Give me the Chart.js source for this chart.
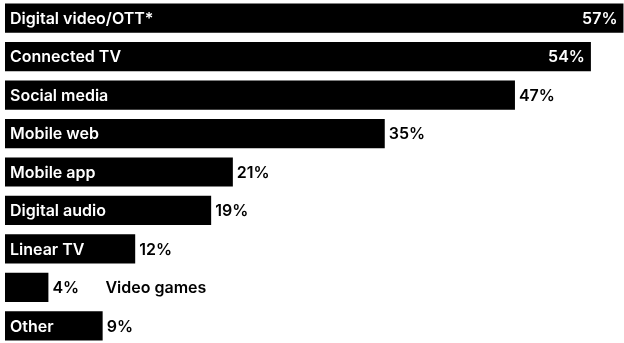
<!DOCTYPE html>
<html>
<head>
<meta charset="utf-8">
<script src="https://cdn.jsdelivr.net/npm/chart.js@4.4.0/dist/chart.umd.min.js"></script>
<style>
  html, body { margin: 0; padding: 0; background: #fff; overflow: hidden; }
  #wrap { width: 624px; height: 346px; position: relative; margin-top: -1px; }
</style>
</head>
<body>
<div id="wrap"><canvas id="myChart"></canvas></div>
<script>
// Data
const categories = ['Digital video/OTT*', 'Connected TV', 'Social media', 'Mobile web', 'Mobile app', 'Digital audio', 'Linear TV', 'Video games', 'Other'];
const shares = [57, 54, 47, 35, 21, 19, 12, 4, 9];
const valueLabels = ['57%', '54%', '47%', '35%', '21%', '19%', '12%', '4%', '9%'];

const FONT = '600 16px Inter, "Noto Sans", sans-serif';

// Draws the category names and percentages on/next to the bars
const barLabels = {
  id: 'barLabels',
  afterDatasetsDraw(chart) {
    const ctx = chart.ctx;
    const meta = chart.getDatasetMeta(0);
    const xScale = chart.scales.x;
    ctx.save();
    ctx.font = FONT;
    ctx.textBaseline = 'middle';
    meta.data.forEach((bar, i) => {
      const y = bar.y + 1;
      const x0 = xScale.getPixelForValue(0);
      const xEnd = bar.x;
      const pct = valueLabels[i];
      const pctWidth = ctx.measureText(pct).width;
      const nameWidth = ctx.measureText(categories[i]).width;
      const barWidth = xEnd - x0;

      if (nameWidth + 14 > barWidth) {
        // bar too short: percent and name outside
        ctx.fillStyle = '#000';
        ctx.textAlign = 'left';
        ctx.fillText(pct, xEnd + 4, y);
        ctx.fillText(categories[i], xEnd + 57, y);
        return;
      }

      ctx.fillStyle = '#fff';
      ctx.textAlign = 'left';
      ctx.fillText(categories[i], x0 + 5, y);

      if (xEnd + pctWidth + 8 > chart.width) {
        ctx.textAlign = 'right';
        ctx.fillText(pct, xEnd - 6, y);
      } else {
        ctx.fillStyle = '#000';
        ctx.textAlign = 'left';
        ctx.fillText(pct, xEnd + 4, y);
      }
    });
    ctx.restore();
  }
};

const ctx = document.getElementById('myChart').getContext('2d');
const chart = new Chart(ctx, {
  type: 'bar',
  data: {
    labels: categories,
    datasets: [{
      data: shares,
      backgroundColor: '#000',
      borderWidth: 0,
      barPercentage: 0.76,
      categoryPercentage: 1
    }]
  },
  options: {
    indexAxis: 'y',
    responsive: true,
    maintainAspectRatio: false,
    animation: false,
    layout: { padding: { left: 5, right: 0, top: 0, bottom: 0 } },
    scales: {
      x: { display: false, min: 0, max: 57.05 },
      y: { display: false }
    },
    plugins: {
      legend: { display: false },
      tooltip: { enabled: false }
    }
  },
  plugins: [barLabels]
});
</script>
</body>
</html>
